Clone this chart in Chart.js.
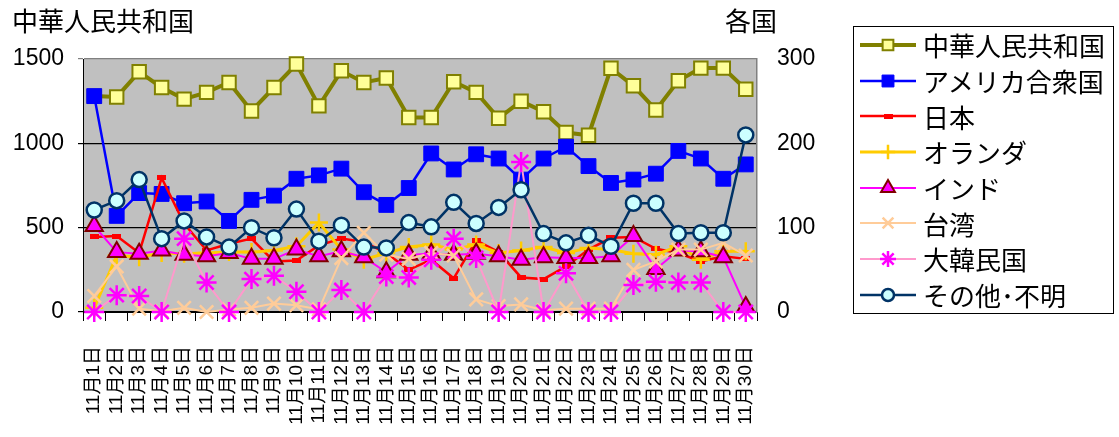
<!DOCTYPE html>
<html>
<head>
<meta charset="utf-8">
<script src="https://cdn.jsdelivr.net/npm/chart.js@4.4.1/dist/chart.umd.min.js"></script>
<style>
  body { margin: 0; background: #fff; }
  #wrap { position: relative; width: 1119px; height: 437px; }
  #legend {
    position: absolute; left: 853px; top: 26px; width: 261px; height: 288px;
    border: 1px solid #000; box-sizing: border-box;
    font: 26px 'Noto Sans CJK JP'; color: #000;
  }
  .row { height: 35.7px; display: flex; align-items: center; white-space: nowrap; }
  .row canvas { margin-left: 6px; margin-right: 7px; }
</style>
</head>
<body>
<div id="wrap">
  <canvas id="Chart" width="1119" height="437"></canvas>
  <div id="legend"></div>
</div>
<script>
const days = [
  "11月1日", "11月2日", "11月3日", "11月4日", "11月5日", "11月6日", "11月7日", "11月8日",
  "11月9日", "11月10日", "11月11日", "11月12日", "11月13日", "11月14日", "11月15日",
  "11月16日", "11月17日", "11月18日", "11月19日", "11月20日", "11月21日", "11月22日",
  "11月23日", "11月24日", "11月25日", "11月26日", "11月27日", "11月28日", "11月29日", "11月30日"
];

// 左軸（中華人民共和国）
const china = [1280, 1275, 1424, 1331, 1262, 1302, 1361, 1192, 1331, 1470, 1222, 1430, 1361, 1387, 1153,
  1153, 1365, 1302, 1149, 1250, 1187, 1064, 1048, 1445, 1341, 1198, 1371, 1446, 1446, 1321];

// 右軸（各国）
const usa = [256, 114, 141, 140, 129, 131, 108, 133, 138, 158, 162, 170, 142, 127, 147,
  188, 169, 187, 182, 157, 182, 196, 173, 153, 157, 164, 191, 182, 158, 175];
const japan = [89, 90, 70, 159, 105, 73, 81, 87, 60, 61, 79, 87, 83, 70, 50,
  62, 40, 85, 71, 41, 39, 54, 74, 88, 89, 75, 70, 60, 66, 63];
const netherlands = [5, 67, 65, 70, 69, 70, 71, 71, 73, 78, 106, 74, 62, 70, 77,
  80, 74, 80, 70, 73, 77, 70, 76, 74, 69, 68, 78, 62, 72, 72];
const india = [102, 71, 69, 73, 68, 66, 70, 63, 63, 74, 66, 72, 65, 47, 68,
  69, 68, 69, 66, 62, 65, 64, 64, 66, 90, 51, 73, 72, 65, 6];
const taiwan = [19, 54, 4, 1, 5, 0, 3, 5, 10, 8, 3, 64, 94, 68, 63,
  70, 67, 15, 7, 9, 2, 4, 4, 4, 50, 60, 74, 74, 82, 67];
const korea = [0, 20, 19, 0, 87, 35, 0, 39, 43, 24, 0, 26, 0, 42, 41,
  62, 87, 64, 0, 178, 0, 46, 0, 0, 32, 36, 35, 35, 0, 0];
const others = [121, 132, 157, 87, 108, 89, 77, 100, 88, 122, 84, 103, 77, 76, 106,
  101, 130, 105, 124, 145, 93, 82, 91, 78, 129, 129, 93, 94, 94, 210];

const CJK = "'Noto Sans CJK JP'";
const NUM = "'Liberation Sans', 'Noto Sans CJK JP'";

// 日本用の横長マーカー
function dashMarker() {
  const c = document.createElement("canvas");
  c.width = 9;
  c.height = 5;
  const g = c.getContext("2d");
  g.fillStyle = "#FF0000";
  g.fillRect(0, 0, 9, 5);
  return c;
}

function series(label, data, axis, color, width, style, radius, bg, border, bw, order) {
  return {
    label: label,
    data: data,
    yAxisID: axis,
    borderColor: color,
    borderWidth: width,
    pointStyle: style,
    pointRadius: radius,
    pointHoverRadius: radius,
    pointBackgroundColor: bg,
    pointBorderColor: border,
    pointBorderWidth: bw,
    tension: 0,
    fill: false,
    clip: false,
    order: order,
  };
}

const datasets = [
  series("中華人民共和国", china, "y", "#808000", 4, "rect", 9.5, "#FFFF99", "#808000", 2, 8),
  series("アメリカ合衆国", usa, "y1", "#0000FF", 2.5, "rect", 10.5, "#0000FF", "#0000FF", 1, 7),
  series("日本", japan, "y1", "#FF0000", 2.5, dashMarker(), 4, "#FF0000", "#FF0000", 1, 6),
  series("オランダ", netherlands, "y1", "#FFCC00", 3, "cross", 9, "#FFCC00", "#FFCC00", 2.5, 5),
  series("インド", india, "y1", "#FF00FF", 2, "triangle", 10, "#FF00FF", "#800000", 2, 4),
  series("台湾", taiwan, "y1", "#FFCC99", 2, "crossRot", 9.5, "#FFCC99", "#FFCC99", 2.5, 3),
  series("大韓民国", korea, "y1", "#FF99CC", 2, "star", 10, "#FF00FF", "#FF00FF", 2.5, 2),
  series("その他･不明", others, "y1", "#003366", 2.5, "circle", 7.5, "#CCFFFF", "#003366", 2.5, 1),
];

const plotBg = {
  id: "plotBg",
  beforeDraw(chart) {
    const { ctx, chartArea: a } = chart;
    ctx.save();
    ctx.fillStyle = "#C0C0C0";
    ctx.fillRect(a.left, a.top, a.right - a.left, a.bottom - a.top);
    ctx.restore();
  },
};

const axisTitles = {
  id: "axisTitles",
  afterDraw(chart) {
    const ctx = chart.ctx;
    ctx.save();
    ctx.font = "26px " + CJK;
    ctx.fillStyle = "#000";
    ctx.textBaseline = "middle";
    ctx.textAlign = "left";
    ctx.fillText("中華人民共和国", 12, 21);
    ctx.textAlign = "center";
    ctx.fillText("各国", chart.chartArea.right - 6, 21);
    ctx.restore();
  },
};

const chart = new Chart(document.getElementById("Chart"), {
  type: "line",
  data: { labels: days, datasets: datasets },
  options: {
    responsive: false,
    animation: false,
    events: [],
    layout: { padding: { top: 59, right: 272, bottom: 0, left: 0 } },
    plugins: { legend: { display: false }, tooltip: { enabled: false } },
    scales: {
      x: {
        offset: true,
        afterFit(s) { s.height = 125; },
        ticks: {
          autoSkip: false, minRotation: 90, maxRotation: 90, padding: 25,
          color: "#000", font: { family: NUM, size: 19 },
        },
        grid: { offset: true, drawOnChartArea: false, tickLength: 9, color: "#000" },
        border: { color: "#000", width: 1 },
      },
      y: {
        position: "left", min: 0, max: 1500,
        afterFit(s) { s.width = 83; },
        ticks: {
          stepSize: 500, padding: 14, color: "#000", font: { family: NUM, size: 23 },
          callback: (v) => String(v),
        },
        grid: {
          color: (c) => (c.tick && c.tick.value === 1500 ? "#808080" : "#000"),
          lineWidth: 1.2, tickLength: 5,
        },
        border: { color: "#000", width: 1 },
      },
      y1: {
        position: "right", min: 0, max: 300,
        afterFit(s) { s.width = 90; },
        ticks: {
          stepSize: 100, padding: 20, color: "#000", font: { family: NUM, size: 23 },
          callback: (v) => String(v),
        },
        grid: { drawOnChartArea: false, drawTicks: false },
        border: { color: "#808080", width: 1.5 },
      },
    },
  },
  plugins: [plotBg, axisTitles],
});

// 凡例（線とマーカー付き）
const legend = document.getElementById("legend");
datasets.forEach((ds) => {
  const row = document.createElement("div");
  row.className = "row";
  const icon = document.createElement("canvas");
  icon.width = 56;
  icon.height = 24;
  const g = icon.getContext("2d");
  g.strokeStyle = ds.borderColor;
  g.lineWidth = ds.borderWidth;
  g.beginPath();
  g.moveTo(0, 12);
  g.lineTo(56, 12);
  g.stroke();
  g.fillStyle = ds.pointBackgroundColor;
  g.strokeStyle = ds.pointBorderColor;
  g.lineWidth = ds.pointBorderWidth;
  if (Chart.helpers && Chart.helpers.drawPoint) {
    Chart.helpers.drawPoint(g, {
      pointStyle: ds.pointStyle,
      radius: ds.pointRadius * 0.8,
      borderWidth: ds.pointBorderWidth,
      rotation: 0,
    }, 28, 12);
  }
  const text = document.createElement("span");
  text.textContent = ds.label;
  row.appendChild(icon);
  row.appendChild(text);
  legend.appendChild(row);
});
</script>
</body>
</html>
